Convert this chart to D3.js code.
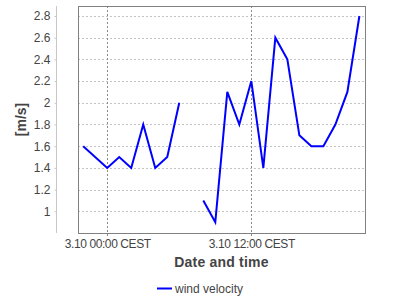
<!DOCTYPE html>
<html>
<head>
<meta charset="utf-8">
<script src="https://cdn.jsdelivr.net/npm/d3@7"></script>
<style>
  body { margin: 0; background: #fff; }
  svg text { font-family: "Liberation Sans", Arial, sans-serif; }
</style>
</head>
<body>
<div id="chart"></div>
<script>
// hourly wind velocity, 7:00 missing
var times = [
  "2021-10-02 22:00", "2021-10-03 00:00", "2021-10-03 01:00", "2021-10-03 02:00",
  "2021-10-03 03:00", "2021-10-03 04:00", "2021-10-03 05:00", "2021-10-03 06:00",
  "2021-10-03 07:00", "2021-10-03 08:00", "2021-10-03 09:00", "2021-10-03 10:00",
  "2021-10-03 11:00", "2021-10-03 12:00", "2021-10-03 13:00", "2021-10-03 14:00",
  "2021-10-03 15:00", "2021-10-03 16:00", "2021-10-03 17:00", "2021-10-03 18:00",
  "2021-10-03 19:00", "2021-10-03 20:00", "2021-10-03 21:00"
];
var velocity = [
  1.6, 1.4, 1.5, 1.4,
  1.8, 1.4, 1.5, 2.0,
  null, 1.1, 0.9, 2.1,
  1.8, 2.2, 1.4, 2.6,
  2.4, 1.7, 1.6, 1.6,
  1.8, 2.1, 2.8
];
var yTicks = [1, 1.2, 1.4, 1.6, 1.8, 2, 2.2, 2.4, 2.6, 2.8];
var xTicks = ["2021-10-03 00:00", "2021-10-03 12:00"];
var seriesName = "wind velocity";

var parse = d3.utcParse("%Y-%m-%d %H:%M");
var data = times.map(function (t, i) {
  return { time: parse(t), value: velocity[i] };
});

var width = 400, height = 300;
var plot = { left: 78, right: 365, top: 6, bottom: 233 };

var svg = d3.select("#chart").append("svg")
  .attr("width", width)
  .attr("height", height);

var x = d3.scaleUtc()
  .domain([parse("2021-10-02 21:34"), parse("2021-10-03 21:28")])
  .range([plot.left, plot.right]);

var y = d3.scaleLinear()
  .domain([0.8, 2.892])
  .range([plot.bottom, plot.top]);

// horizontal grid
svg.append("g")
  .selectAll("line")
  .data(yTicks)
  .enter()
  .append("line")
  .attr("x1", plot.left).attr("x2", plot.right)
  .attr("y1", function (d) { return Math.round(y(d)) + 0.5; })
  .attr("y2", function (d) { return Math.round(y(d)) + 0.5; })
  .attr("stroke", "#c4c4c4")
  .attr("stroke-dasharray", "2,2");

// vertical grid
svg.append("g")
  .selectAll("line")
  .data(xTicks.map(parse))
  .enter()
  .append("line")
  .attr("x1", function (d) { return Math.round(x(d)) + 0.5; })
  .attr("x2", function (d) { return Math.round(x(d)) + 0.5; })
  .attr("y1", plot.top).attr("y2", plot.bottom + 3)
  .attr("stroke", "#8a8a8a")
  .attr("stroke-dasharray", "2,2");

// plot border
svg.append("rect")
  .attr("x", plot.left + 0.5).attr("y", plot.top + 0.5)
  .attr("width", plot.right - plot.left)
  .attr("height", plot.bottom - plot.top)
  .attr("fill", "none")
  .attr("stroke", "#808080");

// y axis, offset from the plot
var yAxis = svg.append("g")
  .attr("transform", "translate(56.5,0)")
  .call(d3.axisLeft(y).tickValues(yTicks).tickSize(2).tickPadding(4)
    .tickFormat(d3.format("~g")));
yAxis.select(".domain")
  .attr("d", "M0," + plot.top + "V" + plot.bottom)
  .attr("stroke", "#c8c8c8");
yAxis.selectAll(".tick line").attr("stroke", "#c8c8c8");
yAxis.selectAll(".tick text")
  .attr("fill", "#444")
  .style("font-size", "12px");

// x axis labels
var fmt = d3.utcFormat("%-d.%-m %H:%M CEST");
var xAxis = svg.append("g")
  .attr("transform", "translate(0," + plot.bottom + ")")
  .call(d3.axisBottom(x).tickValues(xTicks.map(parse)).tickSize(0).tickPadding(6)
    .tickFormat(fmt));
xAxis.select(".domain").remove();
xAxis.selectAll(".tick text")
  .attr("fill", "#444")
  .style("font-size", "12px")
  .style("letter-spacing", "-0.4px");

// axis titles
svg.append("text")
  .attr("x", (plot.left + plot.right) / 2)
  .attr("y", 267)
  .attr("text-anchor", "middle")
  .attr("fill", "#444")
  .style("font-size", "14px")
  .style("font-weight", "bold")
  .style("letter-spacing", "0.2px")
  .text("Date and time");

svg.append("text")
  .attr("transform", "translate(26," + (plot.top + plot.bottom) / 2 + ") rotate(-90)")
  .attr("text-anchor", "middle")
  .attr("fill", "#444")
  .style("font-size", "14px")
  .style("font-weight", "bold")
  .text("[m/s]");

// series
svg.append("path")
  .datum(data)
  .attr("fill", "none")
  .attr("stroke", "#0000ff")
  .attr("stroke-width", 2)
  .attr("d", d3.line()
    .defined(function (d) { return d.value != null; })
    .x(function (d) { return x(d.time); })
    .y(function (d) { return y(d.value); }));

// legend
var legend = svg.append("g").attr("transform", "translate(157,288.5)");
legend.append("line")
  .attr("x1", 0).attr("x2", 15)
  .attr("stroke", "#0000ff")
  .attr("stroke-width", 2);
legend.append("text")
  .attr("x", 18)
  .attr("y", 4.5)
  .attr("fill", "#444")
  .style("font-size", "12px")
  .text(seriesName);
</script>
</body>
</html>
